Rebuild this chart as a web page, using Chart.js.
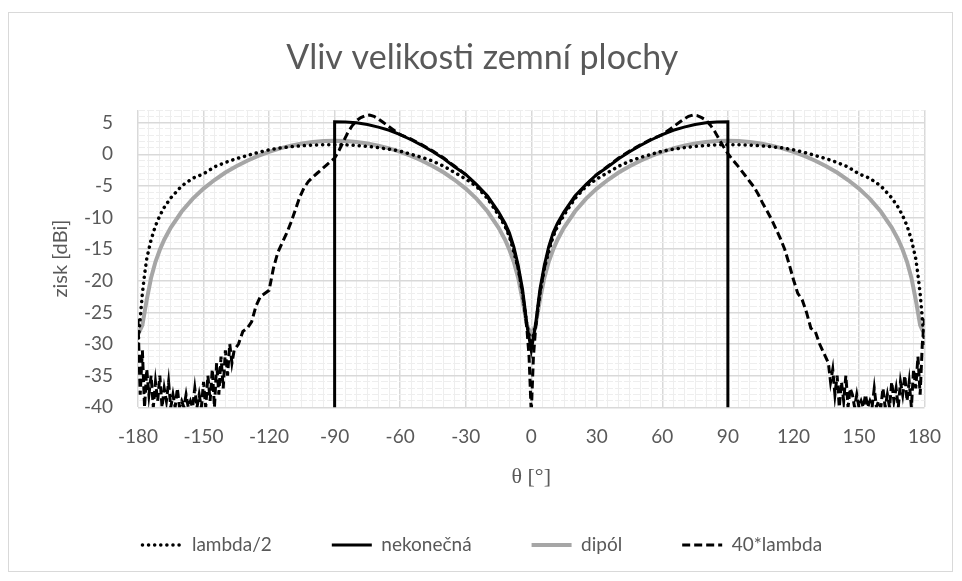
<!DOCTYPE html>
<html>
<head>
<meta charset="utf-8">
<title>Vliv velikosti zemní plochy</title>
<script src="https://cdn.jsdelivr.net/npm/chart.js@4.4.1/dist/chart.umd.min.js"></script>
<style>
  html, body { margin: 0; padding: 0; background: #fff; }
  #wrap { width: 962px; height: 581px; }
</style>
</head>
<body>
<div id="wrap"><canvas id="chart" width="962" height="581"></canvas></div>
<script>
// theta [deg] for the smooth curves (lambda/2, dipol)
const theta = [
  -180, -178, -177, -176, -174, -172, -170, -168, -165, -160, -155, -150, -145, -140, -135, -130,
  -125, -120, -115, -110, -105, -100, -95, -90, -85, -80, -75, -70, -65, -60, -55, -50,
  -45, -40, -35, -30, -25, -20, -15, -12, -10, -8, -6, -4, -3, -2, 0,
  2, 3, 4, 6, 8, 10, 12, 15, 20, 25, 30, 35, 40, 45, 50, 55, 60, 65, 70, 75, 80, 85,
  90, 95, 100, 105, 110, 115, 120, 125, 130, 135, 140, 145, 150, 155, 160, 165,
  168, 170, 172, 174, 176, 177, 178, 180
];

const lambdaHalf = [
  -30, -22, -19, -16.5, -13.5, -11.3, -9.7, -8.4, -6.9, -5.0, -3.8, -3.1, -2.0, -1.3, -0.7, -0.2,
  0.3, 0.7, 1.0, 1.2, 1.35, 1.45, 1.5, 1.5, 1.5, 1.4, 1.25, 1.05, 0.8, 0.5, 0.0, -0.5,
  -1.1, -1.9, -2.9, -3.9, -5.1, -7.0, -9.6, -11.4, -13.0, -15.4, -18.0, -22, -24.5, -27, -30,
  -27, -24.5, -22, -18, -15.4, -13, -11.4, -9.6, -7, -5.1, -3.9, -2.9, -1.9, -1.1, -0.5, 0, 0.5, 0.8, 1.05, 1.25, 1.4, 1.5,
  1.5, 1.5, 1.45, 1.35, 1.2, 1.0, 0.7, 0.3, -0.2, -0.7, -1.3, -2.0, -3.1, -3.8, -5.0, -6.9,
  -8.4, -9.7, -11.3, -13.5, -16.5, -19, -22, -30
];

const dipole = [
  -28.5, -27, -25, -23, -19.5, -17, -15.1, -13.5, -11.6, -9.05, -7.05, -5.42, -4.07, -2.89, -1.89, -1.02,
  -0.26, 0.39, 0.93, 1.37, 1.71, 1.95, 2.1, 2.15, 2.1, 1.95, 1.71, 1.37, 0.93, 0.39, -0.26, -1.02,
  -1.89, -2.89, -4.07, -5.42, -7.05, -9.05, -11.6, -13.5, -15.1, -17, -19.5, -23, -25, -27, -28.5,
  -27, -25, -23, -19.5, -17, -15.1, -13.5, -11.6, -9.05, -7.05, -5.42, -4.07, -2.89, -1.89, -1.02, -0.26, 0.39, 0.93, 1.37, 1.71, 1.95, 2.1,
  2.15, 2.1, 1.95, 1.71, 1.37, 0.93, 0.39, -0.26, -1.02, -1.89, -2.89, -4.07, -5.42, -7.05, -9.05, -11.6,
  -13.5, -15.1, -17, -19.5, -23, -25, -27, -28.5
];

// infinite ground plane: nothing below the horizon (|theta| > 90)
const thetaInf = [
  -90, -90, -85, -80, -75, -70, -65, -60, -55, -50, -45, -40, -35, -30, -25, -20, -15, -12, -10, -8, -6, -4, -3, -2, 0,
  2, 3, 4, 6, 8, 10, 12, 15, 20, 25, 30, 35, 40, 45, 50, 55, 60, 65, 70, 75, 80, 85, 90, 90
];
const infinite = [
  -60, 5.15, 5.1, 5.0, 4.7, 4.3, 3.8, 3.1, 2.3, 1.4, 0.4, -0.7, -2.0, -3.2, -4.8, -6.6, -9.1, -10.9, -12.4, -14.6, -17.5, -21.3, -24, -27, -31,
  -27, -24, -21.3, -17.5, -14.6, -12.4, -10.9, -9.1, -6.6, -4.8, -3.2, -2.0, -0.7, 0.4, 1.4, 2.3, 3.1, 3.8, 4.3, 4.7, 5.0, 5.1, 5.15, -60
];

// 40*lambda ground plane, finer steps (noisy tails)
const thetaFine = [
  -180, -179, -178, -177, -176, -175, -174, -173, -172, -171, -170, -169, -168, -167, -166, -165,
  -164, -163, -162, -161, -160, -159, -158, -157, -156, -155, -154, -153, -152, -151, -150, -149,
  -148, -147, -146, -145, -144, -143, -142, -141, -140, -139, -138, -137,
  -136, -134, -132, -130, -128, -126, -124, -122, -120, -118, -116, -114, -112, -110, -108, -106,
  -104, -102, -100, -98, -96, -94, -92, -90, -88, -86, -84, -82, -80, -78, -76, -74,
  -72, -70, -68, -66, -64, -62, -60,
  -55, -50, -45, -40, -35, -30, -25, -20, -15, -12, -10, -8, -6, -4, -3, -2, -1, 0,
  1, 2, 3, 4, 6, 8, 10, 12, 15, 20, 25, 30, 35, 40, 45, 50, 55,
  60, 62, 64, 66, 68, 70, 72, 74, 76, 78, 80, 82, 84, 86, 88, 90,
  92, 94, 96, 98, 100, 102, 104, 106, 108, 110, 112, 114, 116, 118, 120, 122,
  124, 126, 128, 130, 132, 134, 136,
  137, 138, 139, 140, 141, 142, 143, 144, 145, 146, 147, 148, 149, 150, 151, 152,
  153, 154, 155, 156, 157, 158, 159, 160, 161, 162, 163, 164, 165, 166, 167, 168,
  169, 170, 171, 172, 173, 174, 175, 176, 177, 178, 179, 180
];
const lambda40 = [
  -26, -38, -31, -40, -34, -38, -35, -40, -36, -39, -35, -40, -37, -39, -36, -40,
  -38, -40, -37, -40, -39, -40, -38, -40, -39, -40, -37, -40, -38, -40, -36, -40,
  -35, -39, -34, -40, -33, -38, -32, -37, -31, -35, -30, -33,
  -31, -30, -28, -27.5, -26.5, -24, -22.5, -22, -21.5, -18, -15.5, -14, -12.5, -10.8, -8.8, -6.8,
  -5.3, -4.3, -3.6, -3.0, -2.4, -1.8, -1.2, -0.6, 0.6, 2.0, 3.4, 4.5, 5.3, 5.8, 6.1, 6.2,
  6.0, 5.6, 5.1, 4.6, 4.1, 3.6, 3.1,
  2.4, 1.5, 0.5, -0.6, -1.9, -3.2, -4.9, -6.8, -9.3, -11.2, -12.8, -15.0, -18.0, -21.8, -24.5, -27.5, -32, -41,
  -32, -27.5, -24.5, -21.8, -18, -15, -12.8, -11.2, -9.3, -6.8, -4.9, -3.2, -1.9, -0.6, 0.5, 1.5, 2.4,
  3.1, 3.6, 4.1, 4.6, 5.1, 5.6, 6.0, 6.2, 6.1, 5.8, 5.4, 4.6, 3.6, 2.4, 1.2, 0.1,
  -0.8, -1.6, -2.5, -3.4, -4.3, -5.2, -6.4, -7.8, -9.0, -10.3, -11.8, -13.3, -15.0, -17.3, -19.8, -22,
  -23, -25, -27.5, -28, -30, -31.5, -33,
  -36, -34, -38, -35, -40, -36, -39, -35, -40, -37, -38, -40, -38, -40, -39, -40,
  -38, -40, -39, -40, -37, -40, -39, -40, -37, -40, -38, -40, -36, -39, -37, -40,
  -36, -38, -35, -39, -36, -40, -34, -37, -32, -38, -30, -26
];

const seriesNames = ['lambda/2', 'nekonečná', 'dipól', '40*lambda'];

const textColor = '#595959';
const fontFamily = 'Lato, "Open Sans", sans-serif';

function toPoints(xs, ys) {
  return xs.map((x, i) => ({x: x, y: ys[i]}));
}

// light frame around the whole chart, like the spreadsheet chart border
const framePlugin = {
  id: 'frame',
  beforeDraw(chart) {
    const c = chart.ctx;
    c.save();
    c.fillStyle = '#ffffff';
    c.fillRect(0, 0, chart.width, chart.height);
    c.strokeStyle = '#d9d9d9';
    c.lineWidth = 1;
    c.strokeRect(8.5, 12.5, 944, 559);
    c.restore();
  }
};

const ctx = document.getElementById('chart').getContext('2d');

const data = {
  datasets: [
    {
      label: seriesNames[0],
      data: toPoints(theta, lambdaHalf),
      borderColor: '#000000',
      borderWidth: 3.5,
      borderDash: [0.1, 6],
      borderCapStyle: 'round',
      order: 2
    },
    {
      label: seriesNames[1],
      data: toPoints(thetaInf, infinite),
      borderColor: '#000000',
      borderWidth: 3,
      order: 1
    },
    {
      label: seriesNames[2],
      data: toPoints(theta, dipole),
      borderColor: '#a6a6a6',
      borderWidth: 4,
      order: 3
    },
    {
      label: seriesNames[3],
      data: toPoints(thetaFine, lambda40),
      borderColor: '#000000',
      borderWidth: 3,
      borderDash: [8, 4],
      order: 0
    }
  ]
};

const config = {
  type: 'line',
  data: data,
  plugins: [framePlugin],
  options: {
    responsive: false,
    animation: false,
    elements: {
      point: { radius: 0, hoverRadius: 0 },
      line: { tension: 0, fill: false }
    },
    layout: {
      padding: { left: 40, right: 37.5, top: 14, bottom: 16.5 }
    },
    plugins: {
      title: {
        display: true,
        text: 'Vliv velikosti zemní plochy',
        color: textColor,
        font: { family: fontFamily, size: 34, weight: 'normal' },
        padding: { top: 23.6, bottom: 31.6 }
      },
      legend: {
        position: 'bottom',
        labels: {
          color: textColor,
          font: { family: fontFamily, size: 19 },
          usePointStyle: true,
          pointStyle: 'line',
          pointStyleWidth: 40,
          padding: 60,
          sort: (a, b) => a.datasetIndex - b.datasetIndex,
          generateLabels: (chart) => {
            const items = Chart.defaults.plugins.legend.labels.generateLabels(chart);
            items.forEach((it) => {
              const ds = chart.data.datasets[it.datasetIndex];
              it.lineDash = ds.borderDash || [];
              it.lineWidth = ds.borderWidth;
              it.strokeStyle = ds.borderColor;
              it.lineCap = ds.borderCapStyle || 'butt';
              it.pointStyle = 'line';
            });
            return items;
          }
        }
      },
      tooltip: { enabled: false }
    },
    scales: {
      x: {
        type: 'linear',
        min: -180,
        max: 180,
        afterFit: (s) => { s.height = 68.2; },
        ticks: {
          stepSize: 5,
          autoSkip: false,
          maxRotation: 0,
          color: textColor,
          padding: 18,
          font: { family: fontFamily, size: 19 },
          callback: (v) => (v % 30 === 0 ? String(v) : '')
        },
        grid: {
          drawTicks: false,
          color: (c) => (c.tick && c.tick.value % 30 === 0 ? '#d9d9d9' : '#eeeeee'),
          lineWidth: (c) => (c.tick && c.tick.value % 30 === 0 ? 1.5 : 1)
        },
        border: { display: false },
        title: {
          display: true,
          text: 'θ [°]',
          color: textColor,
          font: { family: '"Liberation Serif", serif', size: 22 },
          padding: { top: 0, bottom: -15 }
        }
      },
      y: {
        min: -40,
        max: 7,
        afterFit: (s) => { s.width = 98; },
        ticks: {
          stepSize: 1,
          autoSkip: false,
          color: textColor,
          padding: 25,
          font: { family: fontFamily, size: 19 },
          callback: (v) => (v % 5 === 0 ? String(v) : '')
        },
        grid: {
          drawTicks: false,
          color: (c) => (c.tick && c.tick.value % 5 === 0 ? '#d9d9d9' : '#eeeeee'),
          lineWidth: (c) => (c.tick && c.tick.value % 5 === 0 ? 1.5 : 1)
        },
        border: {
          display: false,
          dash: (c) => (c.tick && c.tick.value % 5 !== 0 ? [7, 2] : [])
        },
        title: {
          display: true,
          text: 'zisk [dBi]',
          color: textColor,
          font: { family: fontFamily, size: 20 },
          padding: { top: 9, bottom: 0 }
        }
      }
    }
  }
};

const myChart = new Chart(ctx, config);
</script>
</body>
</html>
